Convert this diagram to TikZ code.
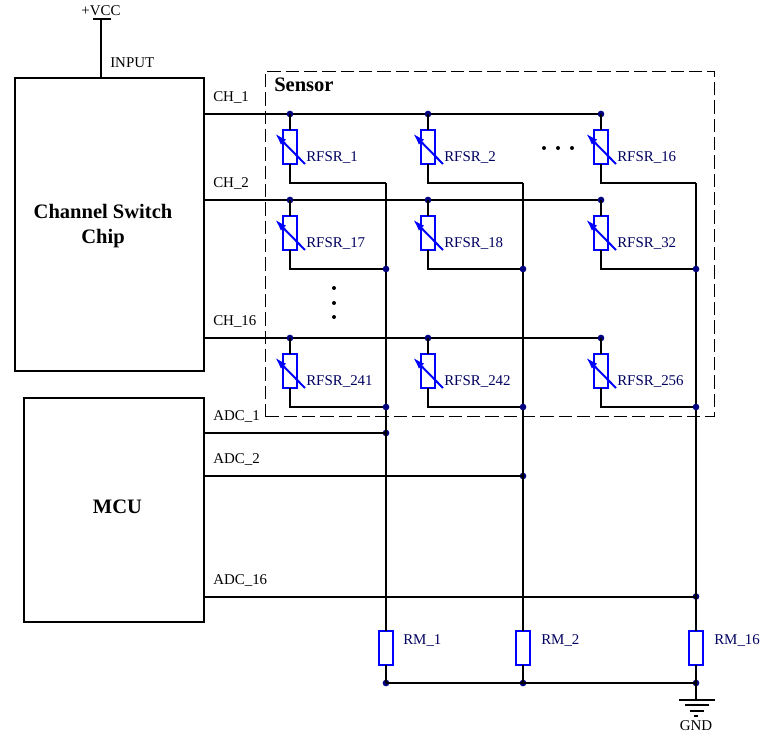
\documentclass[tikz,border=0pt]{standalone}
\usepackage{fontspec}
\setmainfont{Liberation Serif}
\usetikzlibrary{arrows.meta}
\definecolor{dotnavy}{HTML}{000080}
\definecolor{resblue}{HTML}{0000FF}
\definecolor{lblnavy}{HTML}{000060}
\tikzset{
  wire/.style={line width=1.5pt,black},
  chipbox/.style={draw=black,line width=1.5pt,inner sep=0pt,outer sep=0pt,font=\bfseries\fontsize{15.4}{18.5}\selectfont,align=center},
  rbox/.style={draw=resblue,line width=1.5pt,fill=white,rectangle,inner sep=0pt,outer sep=0pt,minimum width=10pt,minimum height=24.8pt},
  jdot/.style={circle,fill=dotnavy,inner sep=0pt,minimum size=5pt},
  ell/.style={circle,fill=black,inner sep=0pt,minimum size=3pt},
  lbl/.style={inner sep=0pt,anchor=west,font=\fontsize{11.2}{13}\selectfont,text=black},
  rlbl/.style={inner sep=0pt,anchor=west,font=\fontsize{11.2}{13}\selectfont,text=lblnavy},
}
\begin{document}
\begin{tikzpicture}[x=0.75pt,y=-0.75pt]
\useasboundingbox (0,0) rectangle (767,734);
% sensor frame
\node[draw=black,line width=0.7pt,dash pattern=on 10pt off 3.75pt,minimum width=337pt,minimum height=258.75pt,inner sep=0pt,outer sep=0pt] (sensor) at (490,243.5) {};
\node[inner sep=0pt,anchor=west,font=\bfseries\fontsize{15.4}{18}\selectfont] (sensorlbl) at (274,85) {Sensor};
% chips
\node[chipbox,minimum width=141.75pt,minimum height=219.75pt] (sw) at (109.5,224.5) {};
\node[font=\bfseries\fontsize{15.4}{18.75}\selectfont,align=center,inner sep=0pt] (swl) at (103,226) {Channel Switch\\Chip};
\node[chipbox,minimum width=135pt,minimum height=168pt] (mcu) at (114,510) {};
\node[font=\bfseries\fontsize{15.4}{18}\selectfont,inner sep=0pt] (mcul) at (117.5,507) {MCU};
% supply
\coordinate (vcctop) at (101,19);
\coordinate (vccl) at (93,19);
\coordinate (vccr) at (111,19);
\draw[wire] (vccl) -- (vccr);
\draw[wire] (vcctop) -- (vcctop |- sw.north);
\node[inner sep=0pt,font=\fontsize{11.2}{13}\selectfont] (vcc) at (101,11) {+VCC};
\node[lbl] (inp) at (110,63) {INPUT};
% column nodes
\coordinate (o1) at (386,183);
\coordinate (o2) at (523,183);
\coordinate (o3) at (696,183);
\node[rbox] (rm1) at (386,648) {};
\node[rbox] (rm2) at (523,648) {};
\node[rbox] (rm3) at (696,648) {};
\node[rlbl] (rml1) at (403,641) {RM\_1};
\node[rlbl] (rml2) at (541,641) {RM\_2};
\node[rlbl] (rml3) at (714,641) {RM\_16};
\node[jdot] (b1) at (386,683) {};
\node[jdot] (b2) at (523,683) {};
\node[jdot] (b3) at (696,683) {};
\node[jdot] (a1) at (386,433) {};
\node[jdot] (a2) at (523,476) {};
\node[jdot] (a3) at (696,596.5) {};
\draw[wire] (o1) -- (rm1.north);
\draw[wire] (o2) -- (rm2.north);
\draw[wire] (o3) -- (rm3.north);
\draw[wire] (rm1.south) -- (b1.center);
\draw[wire] (rm2.south) -- (b2.center);
\draw[wire] (rm3.south) -- (b3.center);
\draw[wire] (b1.center) -- (b2.center) -- (b3.center);
% ADC
\draw[wire] (mcu.east |- a1) -- (a1.center);
\draw[wire] (mcu.east |- a2) -- (a2.center);
\draw[wire] (mcu.east |- a3) -- (a3.center);
\node[lbl] (al1) at (213,417) {ADC\_1};
\node[lbl] (al2) at (213,460) {ADC\_2};
\node[lbl] (al3) at (213,581) {ADC\_16};
% buses
\foreach \r/\b/\t in {1/114/CH\_1,2/200/CH\_2,3/338/CH\_16}{
  \coordinate (bus\r) at (601,\b);
  \draw[wire] (sw.east |- bus\r) -- (bus\r);
  \node[lbl] (chl\r) at (213,\b-16.5) {\t};
}
% sensor cells
\foreach \r/\b/\c/\x/\o/\n in {
  1/114/1/290/386/1, 1/114/2/428/523/2, 1/114/3/601/696/16,
  2/200/1/290/386/17, 2/200/2/428/523/18, 2/200/3/601/696/32,
  3/338/1/290/386/241, 3/338/2/428/523/242, 3/338/3/601/696/256}{
  \node[jdot] (j\r\c) at (\x,\b) {};
  \node[rbox] (s\r\c) at (\x,\b+33) {};
  \coordinate (k\r\c) at (\x,\b+69);
  \coordinate (m\r\c) at (\o,\b+69);
  \draw[wire] (j\r\c.center) -- (s\r\c.north);
  \draw[wire] (s\r\c.south) -- (k\r\c) -- (m\r\c);
  \coordinate (vh\r\c) at (\x-15,\b+19.5);
  \coordinate (vt\r\c) at (\x+15,\b+50);
  \draw[line width=1.5pt,resblue,-{Latex[length=9pt,width=5.5pt]}] (vt\r\c) -- (vh\r\c);
  \node[rlbl] (sl\r\c) at (\x+16,\b+43.5) {RFSR\_\n};
}
% junction dots on columns
\foreach \c/\o in {1/386,2/523,3/696}{
  \node[jdot] (p2\c) at (\o,269) {};
  \node[jdot] (p3\c) at (\o,407) {};
}
% ellipses
\node[ell] (e1) at (544,148) {};
\node[ell] (e2) at (558,148) {};
\node[ell] (e3) at (572,148) {};
\node[ell] (e4) at (334,288) {};
\node[ell] (e5) at (334,303) {};
\node[ell] (e6) at (334,317) {};
% ground
\coordinate (g1) at (696,700);
\draw[wire] (b3.center) -- (g1);
\draw[wire] (679,700) -- (715,700);
\draw[wire] (685,705) -- (709,705);
\draw[wire] (690,710.5) -- (704,710.5);
\draw[wire] (694,716) -- (698,716);
\node[inner sep=0pt,font=\fontsize{11.2}{13}\selectfont] (gnd) at (696,726) {GND};
\end{tikzpicture}
\end{document}
